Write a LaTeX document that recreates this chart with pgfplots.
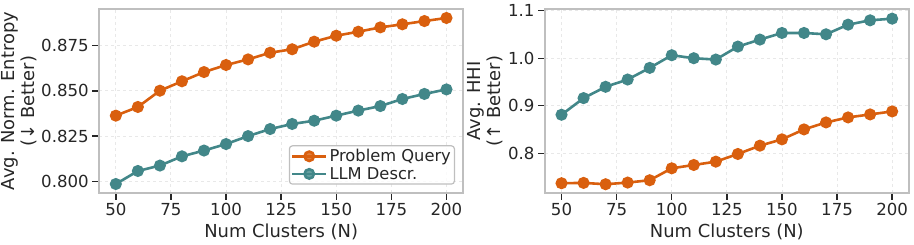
\documentclass[border=0pt]{standalone}
\usepackage{pgfplots}
\pgfplotsset{compat=1.18}
\usepackage{fontspec}
\setmainfont{DejaVu Sans}
\definecolor{porange}{RGB}{217,95,14}
\definecolor{pteal}{RGB}{66,135,137}
\definecolor{framegray}{RGB}{191,191,191}
\definecolor{gridgray}{RGB}{232,232,232}
\definecolor{txt}{RGB}{38,38,38}

\pgfplotstableread{
n   pq      llm
50  0.8363  0.7985
60  0.8411  0.8057
70  0.8501  0.8087
80  0.8553  0.8138
90  0.8604  0.8170
100 0.8643  0.8206
110 0.8674  0.8250
120 0.8711  0.8289
130 0.8730  0.8317
140 0.8772  0.8335
150 0.8805  0.8363
160 0.8827  0.8391
170 0.8851  0.8416
180 0.8868  0.8455
190 0.8886  0.8483
200 0.8903  0.8508
}\entropy

\pgfplotstableread{
n   pq      llm
50  0.7371  0.8811
60  0.7378  0.9161
70  0.7350  0.9399
80  0.7385  0.9552
90  0.7434  0.9797
100 0.7685  1.0063
110 0.7755  1.0000
120 0.7825  0.9972
130 0.7986  1.0245
140 0.8161  1.0392
150 0.8294  1.0531
160 0.8503  1.0531
170 0.8650  1.0503
180 0.8755  1.0706
190 0.8818  1.0797
200 0.8881  1.0832
}\hhi

\pgfplotsset{
  mystyle/.style={
    scale only axis,
    width=363.7pt, height=183.4pt,
    xmin=42.5, xmax=207.5,
    xtick={50,75,...,200},
    axis line style={framegray, line width=1.8pt},
    tick style={txt, line width=1.4pt},
    major tick length=7pt,
    tick align=outside,
    xtick pos=left, ytick pos=left,
    grid=major,
    major grid style={dashed, gridgray, line width=0.9pt},
    tick label style={font=\fontsize{16.6}{19}\selectfont, text=txt},
    /pgf/number format/assume math mode=true,
    xlabel={Num Clusters (N)},
    every axis x label/.style={at={(axis description cs:0.5,0)}, anchor=north, inner sep=0pt, yshift=-31pt, font=\fontsize{17.9}{20}\selectfont, text=txt},
    every axis y label/.style={at={(axis description cs:0,0.5)}, rotate=90, anchor=south, align=center, inner sep=0pt, font=\fontsize{17.9}{20}\selectfont, text=txt},
    every axis plot/.append style={line width=2.6pt, mark=*, mark size=4.7pt},
    legend style={font=\fontsize{16.3}{18.4}\selectfont, text=txt, draw=framegray, line width=1.2pt, rounded corners=3pt, fill=white, fill opacity=0.8, text opacity=1, inner sep=1.5pt, row sep=0pt},
    legend cell align=left,
    legend image code/.code={\draw[mark repeat=2,mark phase=2,#1] plot coordinates {(0pt,0pt) (17pt,0pt) (34pt,0pt)};},
  }
}

\begin{document}
\begin{tikzpicture}[x=1pt,y=1pt]
\useasboundingbox (0,0) rectangle (914,245);
\begin{axis}[mystyle,
  at={(99.3pt,52.3pt)}, anchor=south west,
  ymin=0.7937, ymax=0.8951,
  ytick={0.800,0.825,0.850,0.875},
  yticklabel style={/pgf/number format/fixed, /pgf/number format/precision=3, /pgf/number format/fixed zerofill},
  ylabel={Avg. Norm. Entropy\\(↓ Better)},
  ylabel style={yshift=62.6pt},
  legend style={at={(1,0)}, anchor=south east, xshift=-8pt, yshift=8pt},
]
\addplot[porange] table[x=n, y=pq] {\entropy};
\addlegendentry{Problem Query}
\addplot[pteal] table[x=n, y=llm] {\entropy};
\addlegendentry{LLM Descr.}
\end{axis}
\begin{axis}[mystyle,
  at={(545pt,52.3pt)}, anchor=south west,
  ymin=0.7172, ymax=1.1029,
  ytick={0.8,0.9,1.0,1.1},
  yticklabel style={/pgf/number format/fixed, /pgf/number format/precision=1, /pgf/number format/fixed zerofill},
  ylabel={Avg. HHI\\(↑ Better)},
  ylabel style={yshift=42pt},
]
\addplot[porange] table[x=n, y=pq] {\hhi};
\addplot[pteal] table[x=n, y=llm] {\hhi};
\end{axis}
\end{tikzpicture}
\end{document}
